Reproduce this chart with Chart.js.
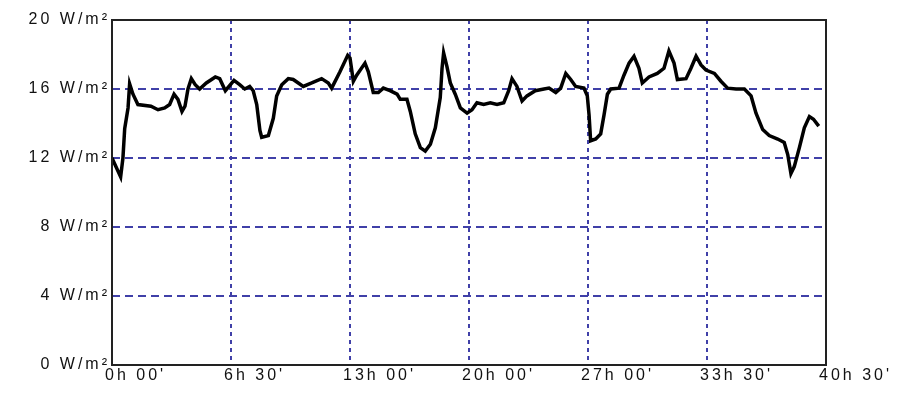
<!DOCTYPE html>
<html>
<head>
<meta charset="utf-8">
<script src="https://cdn.jsdelivr.net/npm/chart.js@4.4.1/dist/chart.umd.min.js"></script>
<style>
  html, body { margin: 0; padding: 0; background: #fff; }
  #wrap { width: 902px; height: 398px; }
</style>
</head>
<body>
<div id="wrap"><canvas id="myChart"></canvas></div>
<script>
// Elapsed time (hours) and irradiance (W/m²)
const hours = [0, 0.49, 0.62, 0.72, 0.91, 1.0, 1.19, 1.47, 2.21, 2.61, 2.99, 3.27, 3.52, 3.74, 3.97, 4.14,
  4.31, 4.5, 4.72, 4.97, 5.35, 5.86, 6.11, 6.43, 6.92, 7.24, 7.53, 7.81, 8.01, 8.21, 8.39, 8.49,
  8.87, 9.15, 9.34, 9.63, 10.0, 10.28, 10.85, 11.33, 11.89, 12.27, 12.46, 12.93, 13.37, 13.5, 13.69,
  13.88, 14.35, 14.54, 14.82, 15.11, 15.39, 15.77, 16.17, 16.35, 16.73, 16.92, 17.2, 17.49, 17.77,
  18.06, 18.34, 18.62, 18.72, 18.81, 19.0, 19.19, 19.47, 19.76, 20.14, 20.42, 20.7, 21.08, 21.46,
  21.84, 22.22, 22.5, 22.69, 22.97, 23.26, 23.54, 24.01, 24.5, 24.79, 25.17, 25.45, 25.74, 26.02,
  26.3, 26.77, 26.96, 27.06, 27.15, 27.44, 27.72, 27.91, 28.1, 28.29, 28.76, 29.04, 29.33, 29.61,
  29.89, 30.08, 30.46, 30.93, 31.31, 31.59, 31.88, 32.07, 32.56, 32.84, 33.13, 33.41, 33.69, 34.17,
  34.54, 34.92, 35.4, 35.87, 36.25, 36.53, 36.91, 37.28, 37.76, 38.13, 38.33, 38.51, 38.7, 38.99,
  39.27, 39.56, 39.79, 40.09];
const power = [12.0, 10.9, 12.0, 13.7, 14.9, 16.3, 15.7, 15.1, 15.0, 14.8, 14.9, 15.1, 15.7, 15.4, 14.7, 15.0,
  16.0, 16.6, 16.25, 16.0, 16.35, 16.7, 16.6, 15.9, 16.5, 16.25, 16.0, 16.15, 15.9, 15.1, 13.6, 13.2,
  13.3, 14.3, 15.6, 16.25, 16.6, 16.55, 16.15, 16.35, 16.6, 16.35, 16.05, 17.0, 17.95, 17.8, 16.45,
  16.8, 17.5, 17.0, 15.8, 15.8, 16.05, 15.9, 15.7, 15.4, 15.4, 14.7, 13.4, 12.6, 12.4,
  12.8, 13.75, 15.5, 17.2, 18.1, 17.3, 16.35, 15.7, 14.9, 14.6, 14.8, 15.2, 15.1, 15.2,
  15.1, 15.2, 15.9, 16.6, 16.15, 15.3, 15.6, 15.9, 16.0, 16.05, 15.8, 16.05, 16.9, 16.55,
  16.15, 16.05, 15.6, 14.5, 13.0, 13.1, 13.4, 14.5, 15.7, 16.0, 16.05, 16.8, 17.5, 17.9,
  17.2, 16.35, 16.7, 16.9, 17.2, 18.2, 17.5, 16.55, 16.6, 17.2, 17.9, 17.4, 17.1, 16.9,
  16.45, 16.05, 16.0, 16.0, 15.6, 14.6, 13.65, 13.3, 13.1, 12.9, 12.2, 11.1, 11.5, 12.6,
  13.75, 14.4, 14.25, 13.85];

const xTickLabels = ["0h 00'", "6h 30'", "13h 00'", "20h 00'", "27h 00'", "33h 30'", "40h 30'"];
const yUnit = ' W/m²';

// wide, spaced-out lettering like the original bitmap font
const spacingPlugin = {
  id: 'spacing',
  beforeLayout(chart) { chart.ctx.letterSpacing = '3px'; },
  beforeDraw(chart) { chart.ctx.letterSpacing = '3px'; }
};

// solid frame round the plot area
const framePlugin = {
  id: 'frame',
  afterDatasetsDraw(chart) {
    const { ctx, chartArea: a } = chart;
    ctx.save();
    ctx.strokeStyle = '#222';
    ctx.lineWidth = 2;
    ctx.strokeRect(a.left, a.top, a.right - a.left, a.bottom - a.top);
    ctx.restore();
  }
};

const tickFont = { family: '"Liberation Sans", Arial, sans-serif', size: 16 };
const gridColor = '#4040a8';

new Chart(document.getElementById('myChart'), {
  type: 'line',
  data: {
    datasets: [{
      data: hours.map((h, i) => ({ x: h, y: power[i] })),
      borderColor: '#000',
      borderWidth: 3.5,
      pointRadius: 0,
      tension: 0,
      fill: false
    }]
  },
  options: {
    responsive: true,
    maintainAspectRatio: false,
    animation: false,
    layout: { padding: { top: 20, right: 76, bottom: 0, left: 0 } },
    plugins: { legend: { display: false }, tooltip: { enabled: false } },
    scales: {
      x: {
        type: 'linear',
        min: 0,
        max: 40.5,
        border: { display: false, dash: [4, 4] },
        grid: { color: gridColor, lineWidth: 2, drawTicks: false },
        ticks: {
          stepSize: 6.75,
          autoSkip: false,
          maxRotation: 0,
          align: 'start',
          labelOffset: -7,
          padding: 1,
          color: '#111',
          font: tickFont,
          callback: (v, i) => xTickLabels[i]
        },
        afterFit: s => { s.height = 33; }
      },
      y: {
        min: 0,
        max: 20,
        border: { display: false, dash: [8, 5] },
        grid: { color: gridColor, lineWidth: 2, drawTicks: false },
        ticks: {
          stepSize: 4,
          padding: 2,
          color: '#111',
          font: tickFont,
          callback: v => v + yUnit
        },
        afterFit: s => { s.width = 112; }
      }
    }
  },
  plugins: [spacingPlugin, framePlugin]
});
</script>
</body>
</html>
